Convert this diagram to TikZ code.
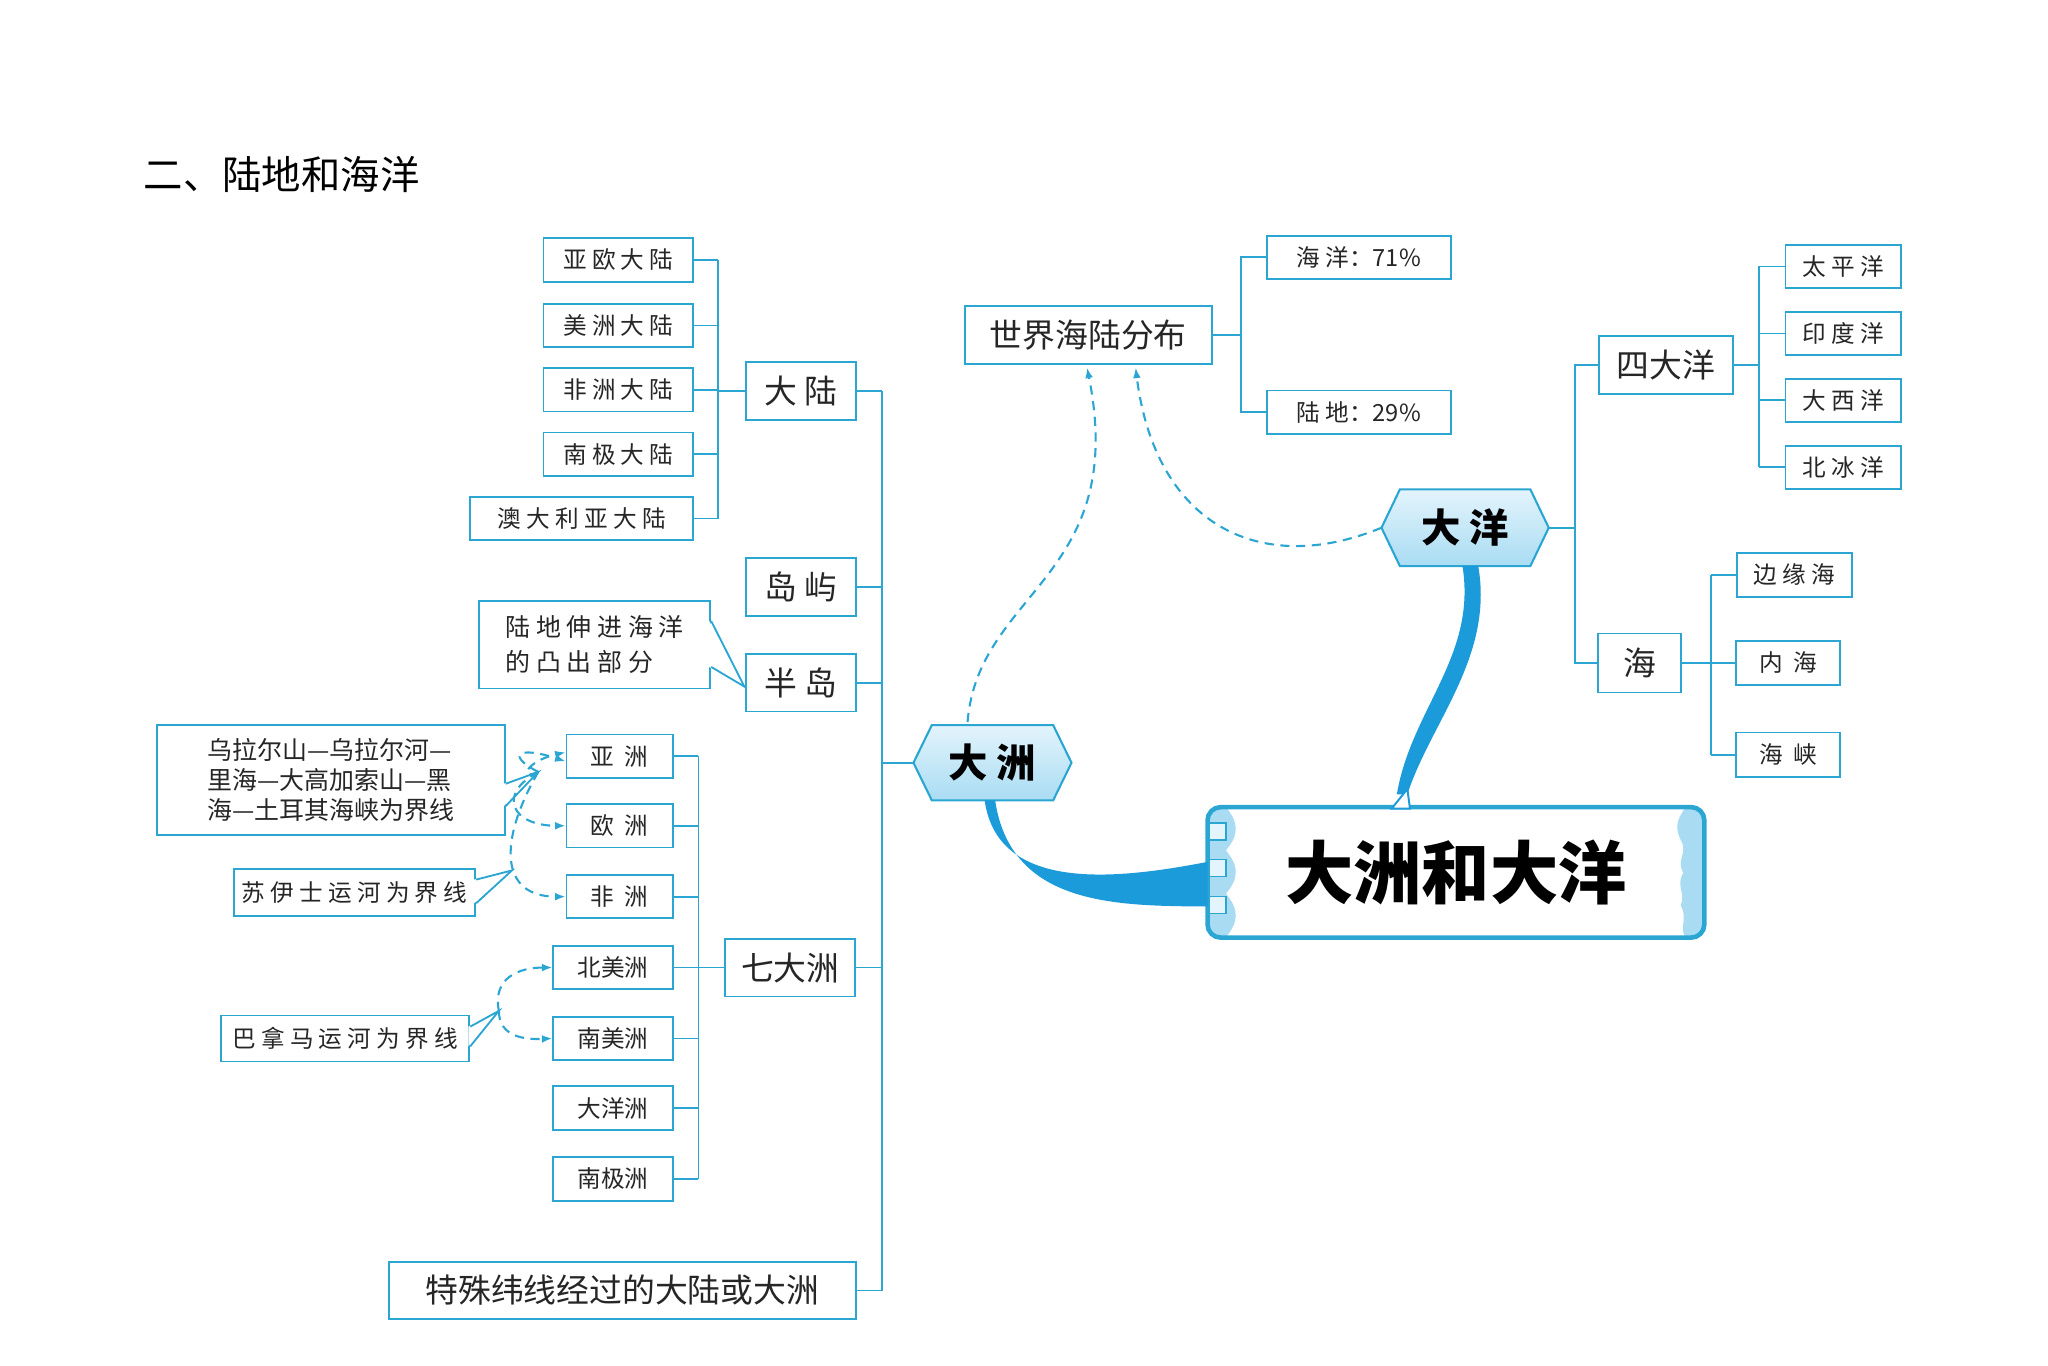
\documentclass[tikz,border=0pt]{standalone}
\usepackage{fontspec}
\setmainfont{Noto Sans CJK SC}
\usetikzlibrary{arrows.meta}
\definecolor{cy}{HTML}{2BA6D3}
\definecolor{cyd}{HTML}{1C9BDB}
\definecolor{lb}{HTML}{A9DCF3}
\definecolor{lbl}{HTML}{E3F4FC}
\tikzset{
 box/.style={draw=cy,line width=1.4pt,fill=white,inner sep=0pt,align=center,text=black!85},
 sbox/.style={box,minimum height=33pt,font=\fontsize{18}{20}\selectfont},
 mbox/.style={box,minimum height=44pt,font=\fontsize{25}{28}\selectfont},
 ln/.style={draw=cy,line width=1.4pt},
 dsh/.style={draw=cy,line width=1.6pt,dash pattern=on 7pt off 5pt},
 dar/.style={dsh,-{Latex[length=8pt,width=6pt]}},
}
\begin{document}
\begin{tikzpicture}[x=1pt,y=-1pt]
\useasboundingbox (0,0) rectangle (1560,1040);
\node[anchor=west,font=\fontsize{30}{32}\selectfont] (ttl) at (106,133) {二、陆地和海洋};

% left main boxes
\node[mbox,minimum width=84pt] (dalu) at (610,298) {大 陆};
\node[mbox,minimum width=84pt] (daoyu) at (610,447) {岛 屿};
\node[mbox,minimum width=84pt] (bandao) at (610,520) {半 岛};
\node[mbox,minimum width=99pt] (qida) at (602,737) {七大洲};
\node[mbox,minimum width=356pt,minimum height=43pt] (teshu) at (474,983) {特殊纬线经过的大陆或大洲};

% continents
\node[sbox,minimum width=114pt] (c1) at (471,198) {亚 欧 大 陆};
\node[sbox,minimum width=114pt] (c2) at (471,248) {美 洲 大 陆};
\node[sbox,minimum width=114pt] (c3) at (471,297) {非 洲 大 陆};
\node[sbox,minimum width=114pt] (c4) at (471,346) {南 极 大 陆};
\node[sbox,minimum width=170pt] (c5) at (443,395) {澳 大 利 亚 大 陆};
\coordinate (bx1) at (547,298);
\foreach \n in {c1,c2,c3,c4,c5}{\draw[ln] (\n.east) -- (\n.east -| bx1);}
\draw[ln] (c1.east -| bx1) -- (c5.east -| bx1);
\draw[ln] (bx1) -- (dalu.west);

% seven
\node[sbox,minimum width=81pt] (z1) at (472,576) {亚 \ 洲};
\node[sbox,minimum width=81pt] (z2) at (472,629) {欧 \ 洲};
\node[sbox,minimum width=81pt] (z3) at (472,683) {非 \ 洲};
\node[sbox,minimum width=91pt] (z4) at (467,737) {北美洲};
\node[sbox,minimum width=91pt] (z5) at (467,791) {南美洲};
\node[sbox,minimum width=91pt] (z6) at (467,844) {大洋洲};
\node[sbox,minimum width=91pt] (z7) at (467,898) {南极洲};
\coordinate (bx2) at (532,737);
\foreach \n in {z1,z2,z3,z4,z5,z6,z7}{\draw[ln] (\n.east) -- (\n.east -| bx2);}
\draw[ln] (z1.east -| bx2) -- (z7.east -| bx2);
\draw[ln] (bx2) -- (qida.west);

% dazhou hexagon
\node[minimum width=92pt,minimum height=57pt,inner sep=0pt] (dz) at (756,581) {};
\coordinate (dzL) at ([xshift=-14pt]dz.west);
\coordinate (dzR) at ([xshift=14pt]dz.east);
\draw[draw=cy,line width=1.6pt,top color=lbl,bottom color=lb] (dzL) -- (dz.north west) -- (dz.north east) -- (dzR) -- (dz.south east) -- (dz.south west) -- cycle;
\node[font=\fontsize{30}{32}\selectfont\bfseries] at (dz) {大 洲};

% trunk
\coordinate (tk) at (672,581);
\foreach \n in {dalu,daoyu,bandao,qida,teshu}{\draw[ln] (\n.east) -- (\n.east -| tk);}
\draw[ln] (dalu.east -| tk) -- (teshu.east -| tk);
\draw[ln] (tk) -- (dzL);

% callout bandao
\node[box,minimum width=176pt,minimum height=67pt,font=\fontsize{19}{27}\selectfont,align=left] (cb) at (453,491) {陆 地 伸 进 海 洋\\的 凸 出 部 分};
\coordinate (cbt) at (567,523);
\fill[white] ([xshift=-1.5pt,yshift=-17pt]cb.east) -- (cbt) -- ([xshift=-1.5pt,yshift=18pt]cb.east) -- cycle;
\draw[ln] ([yshift=-17pt]cb.east) -- (cbt) -- ([yshift=18pt]cb.east);

% callout 1
\node[box,minimum width=265pt,minimum height=84pt,font=\fontsize{19}{23}\selectfont,align=left] (k1) at (252,594) {乌拉尔山—乌拉尔河—\\里海—大高加索山—黑\\海—土耳其海峡为界线};
\coordinate (k1t) at (410,588);
\fill[white] ([xshift=-1.5pt,yshift=-20pt]k1.east) -- (k1t) -- ([xshift=-1.5pt,yshift=-3pt]k1.east) -- cycle;
\draw[ln] ([yshift=-20pt]k1.east) -- (k1t) -- ([yshift=-3pt]k1.east);
% callout 2
\node[box,minimum width=184pt,minimum height=36pt,font=\fontsize{18}{20}\selectfont] (k2) at (270,680) {苏 伊 士 运 河 为 界 线};
\coordinate (k2t) at (390,663);
\fill[white] ([xshift=-1.5pt,yshift=-8pt]k2.east) -- (k2t) -- ([xshift=-1.5pt,yshift=10pt]k2.east) -- cycle;
\draw[ln] ([yshift=-8pt]k2.east) -- (k2t) -- ([yshift=10pt]k2.east);
% callout 3
\node[box,minimum width=189pt,minimum height=35pt,font=\fontsize{18}{20}\selectfont] (k3) at (263,791) {巴 拿 马 运 河 为 界 线};
\coordinate (k3t) at (380,770);
\fill[white] ([xshift=-1.5pt,yshift=-6pt]k3.east) -- (k3t) -- ([xshift=-1.5pt,yshift=9pt]k3.east) -- cycle;
\draw[ln] ([yshift=-6pt]k3.east) -- (k3t) -- ([yshift=9pt]k3.east);

% dashed arrows left
\draw[dar] (k1t) .. controls (385,575) and (395,568) .. ([yshift=-4pt]z1.west);
\draw[dar] (k1t) .. controls (395,595) and (400,580) .. ([yshift=3pt]z1.west);
\draw[dar] (k1t) .. controls (378,605) and (390,629) .. (z2.west);
\draw[dar] (k1t) .. controls (380,640) and (380,683) .. (z3.west);
\draw[dar] (k3t) .. controls (375,745) and (395,737) .. (z4.west);
\draw[dar] (k3t) .. controls (380,790) and (400,792) .. (z5.west);

% right side
\node[mbox,minimum width=188pt] (sj) at (829,255) {世界海陆分布};
\node[sbox,minimum width=140pt] (h71) at (1035,196) {海 洋：71\%};
\node[sbox,minimum width=140pt] (l29) at (1035,314) {陆 地：29\%};
\coordinate (bx3) at (945,255);
\draw[ln] (h71.west) -| (bx3) |- (l29.west); \draw[ln] (sj.east) -- (bx3);

\node[minimum width=99pt,minimum height=58pt,inner sep=0pt] (dy) at (1116,402) {};
\coordinate (dyL) at ([xshift=-14pt]dy.west);
\coordinate (dyR) at ([xshift=14pt]dy.east);
\draw[draw=cy,line width=1.6pt,top color=lbl,bottom color=lb] (dyL) -- (dy.north west) -- (dy.north east) -- (dyR) -- (dy.south east) -- (dy.south west) -- cycle;
\node[font=\fontsize{30}{32}\selectfont\bfseries] at (dy) {大 洋};

\node[mbox,minimum width=102pt] (sd) at (1269,278) {四大洋};
\node[mbox,minimum width=63pt,minimum height=45pt] (hai) at (1249,505) {海};
\coordinate (bx4) at (1200,402);
\draw[ln] (dyR) -- (bx4); \draw[ln] (sd.west) -| (bx4) |- (hai.west);

\node[sbox,minimum width=88pt] (o1) at (1404,203) {太 平 洋};
\node[sbox,minimum width=88pt] (o2) at (1404,254) {印 度 洋};
\node[sbox,minimum width=88pt] (o3) at (1404,305) {大 西 洋};
\node[sbox,minimum width=88pt] (o4) at (1404,356) {北 冰 洋};
\coordinate (bx5) at (1340,278);
\foreach \n in {o1,o2,o3,o4}{\draw[ln] (\n.west) -- (\n.west -| bx5);}
\draw[ln] (o1.west -| bx5) -- (o4.west -| bx5); \draw[ln] (sd.east) -- (bx5);

\node[sbox,minimum width=88pt,minimum height=34pt] (s1) at (1367,438) {边 缘 海};
\node[sbox,minimum width=79pt,minimum height=34pt] (s2) at (1362,505) {内 \ 海};
\node[sbox,minimum width=79pt,minimum height=34pt] (s3) at (1362,575) {海 \ 峡};
\coordinate (bx6) at (1303,505);
\foreach \n in {s1,s2,s3}{\draw[ln] (\n.west) -- (\n.west -| bx6);}
\draw[ln] (s1.west -| bx6) -- (s3.west -| bx6); \draw[ln] (hai.east) -- (bx6);

% dashed to shijie
\draw[dar] (737,550) .. controls (745,450) and (860,440) .. (828,280);
\draw[dar] (dyL) .. controls (960,440) and (880,400) .. (865,280);

% title box
\node[minimum width=378pt,minimum height=99pt,inner sep=0pt] (tb) at (1109,664.5) {};
\begin{scope}
\clip[rounded corners=10pt] (tb.north west) rectangle (tb.south east);
\fill[lb] (tb.north west) -- ++(14,0) .. controls +(10,12) and +(10,-12) .. ++(0,33) .. controls +(10,12) and +(10,-12) .. ++(0,33) .. controls +(10,12) and +(10,-12) .. ++(0,33) -- (tb.south west) -- cycle;
\fill[lb] (tb.north east) -- ++(-14,0) .. controls +(-8,10) and +(-4,-8) .. ++(-4,25) .. controls +(6,10) and +(-6,-10) .. ++(2,25) .. controls +(-6,10) and +(4,-10) .. ++(-2,25) .. controls +(6,10) and +(-6,-6) .. ++(4,24) -- (tb.south east) -- cycle;
\end{scope}
\foreach \yy in {12,40,68}{\draw[cy,line width=1.2pt,fill=lbl] ([yshift=-\yy pt]tb.north west) rectangle ++(14,13);}
\draw[cy,line width=3.5pt,rounded corners=10pt] (tb.north west) rectangle (tb.south east);
\node[font=\fontsize{52}{56}\selectfont\bfseries] at (tb) {大洲和大洋};

% thick connectors
\fill[cyd] ([xshift=-6pt]dz.south) .. controls (760,680) and (850,670) .. ([yshift=8pt]tb.west) -- ([yshift=-26pt]tb.west) .. controls (850,690) and (770,690) .. ([xshift=2pt]dz.south);
\fill[cyd] ([xshift=-2pt]dy.south) .. controls (1125,500) and (1075,540) .. (1064,605) -- (1072,605) .. controls (1090,550) and (1138,500) .. ([xshift=10pt]dy.south);
\draw[cyd,line width=1.5pt,fill=white] (1060,616) -- (1072,601) -- (1074,616) -- cycle;
\end{tikzpicture}
\end{document}
